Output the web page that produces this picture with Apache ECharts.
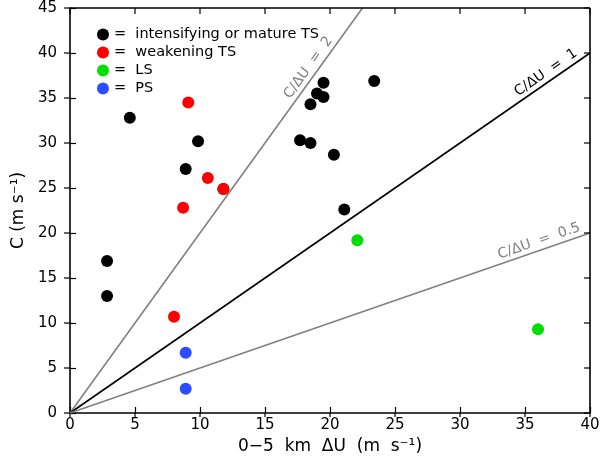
<!DOCTYPE html>
<html lang="en">

<head>
  <meta charset="UTF-8" />
  <title>C vs shear</title>
  <script src="https://cdn.jsdelivr.net/npm/echarts@6/dist/echarts.min.js"></script>
</head>

<body style="margin: 0; overflow: hidden;">
  <div id="panel" style="width: 605px; height: 461px;"></div>
  <script>
    // [0-5 km dU, C] pairs
    var matureTS = [
      [4.6, 32.8], [2.85, 16.9], [2.85, 13.0], [9.85, 30.2], [8.9, 27.1],
      [11.8, 24.9], [17.7, 30.3], [18.5, 30.0], [20.3, 28.7], [21.1, 22.6],
      [18.5, 34.3], [19.0, 35.5], [19.5, 35.1], [19.5, 36.7], [23.4, 36.9]
    ];
    var weakeningTS = [[9.1, 34.5], [10.6, 26.1], [11.8, 24.9], [8.7, 22.8], [8.0, 10.7]];
    var lsCases = [[22.1, 19.2], [36.0, 9.3]];
    var psCases = [[8.9, 6.7], [8.9, 2.7]];

    var seriesNames = ['intensifying or mature TS', 'weakening TS', 'LS', 'PS'];
    var seriesColors = ['#000000', '#ff0000', '#00dd00', '#2a4dff'];

    // reference lines C/dU = ratio, and where along x their label sits
    var ratios = [2, 1, 0.5];
    var ratioColors = ['#808080', '#000000', '#808080'];
    var ratioLabelX = [18.9, 37.0, 36.3];

    var xTicks = [0, 5, 10, 15, 20, 25, 30, 35, 40];
    var yTicks = [0, 5, 10, 15, 20, 25, 30, 35, 40, 45];
    var xMax = 40, yMax = 45;
    var font = 'DejaVu Sans';

    var myChart = echarts.init(document.getElementById('panel'));

    var lineSeries = ratios.map(function (r, i) {
      var xEnd = Math.min(xMax, yMax / r);
      return {
        type: 'line',
        data: [[0, 0], [xEnd, xEnd * r]],
        symbol: 'none',
        silent: true,
        z: 1,
        lineStyle: { color: ratioColors[i], width: 1.6 }
      };
    });

    var scatterSeries = [matureTS, weakeningTS, lsCases, psCases].map(function (d, i) {
      return {
        name: seriesNames[i],
        type: 'scatter',
        data: d,
        symbolSize: 12,
        z: 3,
        itemStyle: { color: seriesColors[i], opacity: 1 }
      };
    });

    var axisLine = { show: true, onZero: false, lineStyle: { color: '#000', width: 1.6 } };
    var axisTick = { show: true, inside: true, length: 6, lineStyle: { color: '#000', width: 1.2 } };

    var option = {
      animation: false,
      grid: { left: 70, right: 15, top: 8, bottom: 48 },
      legend: {
        orient: 'vertical',
        left: 92,
        top: 22,
        itemWidth: 12,
        itemHeight: 12,
        itemGap: 3,
        icon: 'circle',
        data: seriesNames,
        formatter: function (n) { return '=  ' + n; },
        textStyle: { fontFamily: font, fontSize: 14.5, color: '#000' }
      },
      xAxis: {
        type: 'value', min: 0, max: xMax, interval: 5,
        axisLine: axisLine, axisTick: axisTick, splitLine: { show: false },
        name: '0\u2212' + '5  km  \u0394U  (m  s\u207b\u00b9)',
        nameLocation: 'middle', nameGap: 19,
        nameTextStyle: { fontFamily: font, fontSize: 17, color: '#000' },
        axisLabel: { margin: 5, fontFamily: font, fontSize: 15, color: '#000' }
      },
      yAxis: {
        type: 'value', min: 0, max: yMax, interval: 5,
        axisLine: axisLine, axisTick: axisTick, splitLine: { show: false },
        name: 'C (m s\u207b\u00b9)',
        nameLocation: 'middle', nameGap: 32, nameRotate: 90,
        nameTextStyle: { fontFamily: font, fontSize: 17, color: '#000' },
        axisLabel: { margin: 13, fontFamily: font, fontSize: 15, color: '#000' }
      },
      series: lineSeries.concat(scatterSeries)
    };

    myChart.setOption(option);

    function px(v) { return myChart.convertToPixel({ gridIndex: 0 }, v); }
    var lo = px([0, 0]), hi = px([xMax, yMax]);
    var frameStyle = { stroke: '#000', lineWidth: 1.6 };
    var tickStyle = { stroke: '#000', lineWidth: 1.2 };
    var graphics = [];

    // top and right edges of the box
    graphics.push({ type: 'line', shape: { x1: lo[0], y1: hi[1], x2: hi[0], y2: hi[1] }, style: frameStyle, z: 5 });
    graphics.push({ type: 'line', shape: { x1: hi[0], y1: hi[1], x2: hi[0], y2: lo[1] }, style: frameStyle, z: 5 });

    // top ticks (inward) and bottom ticks (outward half)
    xTicks.forEach(function (t) {
      var x = px([t, 0])[0];
      graphics.push({ type: 'line', shape: { x1: x, y1: hi[1], x2: x, y2: hi[1] + 6 }, style: tickStyle, z: 5 });
      graphics.push({ type: 'line', shape: { x1: x, y1: lo[1], x2: x, y2: lo[1] + 4 }, style: tickStyle, z: 5 });
    });
    // right ticks (inward) and left ticks (outward half)
    yTicks.forEach(function (t) {
      var y = px([0, t])[1];
      graphics.push({ type: 'line', shape: { x1: hi[0], y1: y, x2: hi[0] - 6, y2: y }, style: tickStyle, z: 5 });
      graphics.push({ type: 'line', shape: { x1: lo[0], y1: y, x2: lo[0] - 6, y2: y }, style: tickStyle, z: 5 });
    });

    // rotated labels along the reference lines
    ratios.forEach(function (r, i) {
      var x = ratioLabelX[i];
      var p = px([x, x * r]);
      var ang = Math.atan2(lo[1] - p[1], p[0] - lo[0]);
      graphics.push({
        type: 'text',
        x: p[0] - Math.sin(ang) * 2,
        y: p[1] - Math.cos(ang) * 2,
        rotation: ang,
        z: 10,
        style: {
          text: 'C/\u0394U  =  ' + r,
          fontFamily: font,
          fontSize: 14,
          fill: ratioColors[i],
          align: 'center',
          verticalAlign: 'bottom'
        }
      });
    });
    myChart.setOption({ graphic: graphics });
  </script>
</body>

</html>
